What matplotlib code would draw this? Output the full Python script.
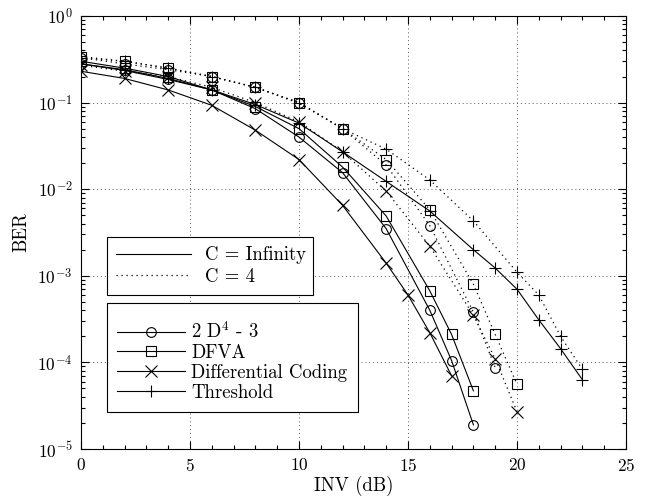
import matplotlib
matplotlib.use("Agg")
import matplotlib.pyplot as plt
from matplotlib.lines import Line2D
from matplotlib.ticker import MultipleLocator, LogLocator, NullFormatter

# Computer Modern look (cmr10 ships with matplotlib)
plt.rcParams['font.family'] = 'serif'
plt.rcParams['font.serif'] = ['cmr10', 'DejaVu Serif']
plt.rcParams['mathtext.fontset'] = 'cm'
plt.rcParams['axes.formatter.use_mathtext'] = True
plt.rcParams['axes.unicode_minus'] = False

# ---- data ----
# C = Infinity (solid)
x_circ_inf = [0, 2, 4, 6, 8, 10, 12, 14, 16, 17, 18]
ber_circ_inf = [0.28, 0.235, 0.185, 0.14, 0.085, 0.04, 0.0155, 0.0035, 0.0004, 0.000105, 0.000019]

x_sq_inf = [0, 2, 4, 6, 8, 10, 12, 14, 16, 17, 18]
ber_sq_inf = [0.30, 0.25, 0.20, 0.14, 0.09, 0.05, 0.018, 0.0049, 0.00067, 0.00021, 0.000047]

x_x_inf = [0, 2, 4, 6, 8, 10, 12, 14, 15, 16, 17]
ber_x_inf = [0.23, 0.19, 0.14, 0.093, 0.048, 0.022, 0.0065, 0.0014, 0.0006, 0.00022, 0.00007]

x_thr_inf = [0, 2, 4, 6, 8, 10, 12, 14, 16, 18, 19, 20, 21, 22, 23]
ber_thr_inf = [0.28, 0.24, 0.19, 0.14, 0.095, 0.058, 0.027, 0.0123, 0.0056, 0.002, 0.00123,
               0.0007, 0.00031, 0.000144, 0.000063]

# C = 4 (dotted)
x_circ_4 = [0, 2, 4, 6, 8, 10, 12, 14, 16, 18, 19]
ber_circ_4 = [0.33, 0.28, 0.24, 0.2, 0.15, 0.1, 0.05, 0.019, 0.0038, 0.00038, 0.000087]

x_sq_4 = [0, 2, 4, 6, 8, 10, 12, 14, 16, 18, 19, 20]
ber_sq_4 = [0.34, 0.3, 0.25, 0.2, 0.15, 0.098, 0.05, 0.022, 0.0058, 0.0008, 0.00021, 0.000056]

x_x_4 = [0, 2, 4, 6, 8, 10, 12, 14, 16, 18, 19, 20]
ber_x_4 = [0.27, 0.23, 0.2, 0.15, 0.1, 0.06, 0.027, 0.0095, 0.0022, 0.00035, 0.00011, 0.000027]

x_thr_4 = [0, 2, 4, 6, 8, 10, 12, 14, 16, 18, 20, 21, 22, 23]
ber_thr_4 = [0.33, 0.3, 0.25, 0.2, 0.15, 0.1, 0.05, 0.029, 0.0128, 0.0043, 0.0011, 0.0006, 0.0002, 0.000083]

series_labels = ['2 D$^4$ - 3', 'DFVA', 'Differential Coding', 'Threshold']
markers = ['o', 's', 'x', '+']
marker_sizes = [7, 7, 8, 9]

solid_data = [(x_circ_inf, ber_circ_inf), (x_sq_inf, ber_sq_inf),
              (x_x_inf, ber_x_inf), (x_thr_inf, ber_thr_inf)]
dotted_data = [(x_circ_4, ber_circ_4), (x_sq_4, ber_sq_4),
               (x_x_4, ber_x_4), (x_thr_4, ber_thr_4)]

dot_style = (0, (1, 3))

fig = plt.figure(figsize=(6.49, 4.99), dpi=100)
ax = fig.add_axes([81 / 649, 1 - 449 / 499, 545 / 649, 433 / 499])

for (x, y), m, ms in zip(solid_data, markers, marker_sizes):
    ax.plot(x, y, color='k', lw=0.8, ls='-', marker=m, ms=ms, mfc='none', mec='k', mew=0.8)
for (x, y), m, ms in zip(dotted_data, markers, marker_sizes):
    ax.plot(x, y, color='k', lw=0.9, ls=dot_style, marker=m, ms=ms, mfc='none', mec='k', mew=0.8)

ax.set_yscale('log')
ax.set_xlim(0, 25)
ax.set_ylim(1e-5, 1)
ax.xaxis.set_major_locator(MultipleLocator(5))
ax.xaxis.set_minor_locator(MultipleLocator(1))
ax.yaxis.set_major_locator(LogLocator(base=10, numticks=10))
ax.yaxis.set_minor_locator(LogLocator(base=10, subs=range(2, 10), numticks=10))
ax.yaxis.set_minor_formatter(NullFormatter())

ax.tick_params(which='both', direction='in', top=True, right=True, labelsize=12.5, width=0.8)
ax.tick_params(which='major', length=6, pad=6)
ax.tick_params(which='minor', length=3)
ax.grid(True, which='major', color='0.35', ls=(0, (1, 3)), lw=0.7)
for s in ax.spines.values():
    s.set_linewidth(0.8)

ax.set_xlabel('INV (dB)', fontsize=13.5, labelpad=1)
ax.set_ylabel('BER', fontsize=13.5, labelpad=5)

# legend 1: line styles
h1 = [Line2D([], [], color='k', lw=0.8, ls='-'),
      Line2D([], [], color='k', lw=0.9, ls=dot_style)]
leg1 = ax.legend(h1, ['C = Infinity', 'C = 4'], loc='upper left',
                 bbox_to_anchor=(0.0477, 0.0, 0.378, 0.4896), mode='expand',
                 fontsize=13.5, handlelength=4.0, handletextpad=0.75, labelspacing=0.2,
                 borderpad=0.5, fancybox=False, edgecolor='k', framealpha=1,
                 borderaxespad=0)
leg1.get_frame().set_linewidth(0.8)
ax.add_artist(leg1)

# legend 2: schemes (small blank title gives the empty strip at the top)
h2 = [Line2D([], [], color='k', lw=0.8, marker=m, ms=ms, mfc='none', mec='k', mew=0.8)
      for m, ms in zip(markers, marker_sizes)]
leg2 = ax.legend(h2, series_labels, loc='lower left',
                 bbox_to_anchor=(0.0477, 0.0855, 0.4606, 0.3), mode='expand',
                 fontsize=13.5, handlelength=3.6, handletextpad=0.35, labelspacing=0.1,
                 borderpad=0.55, fancybox=False, edgecolor='k', framealpha=1,
                 borderaxespad=0, title=' ', title_fontsize=4)
leg2.get_frame().set_linewidth(0.8)

fig.savefig('out.png', dpi=100)
